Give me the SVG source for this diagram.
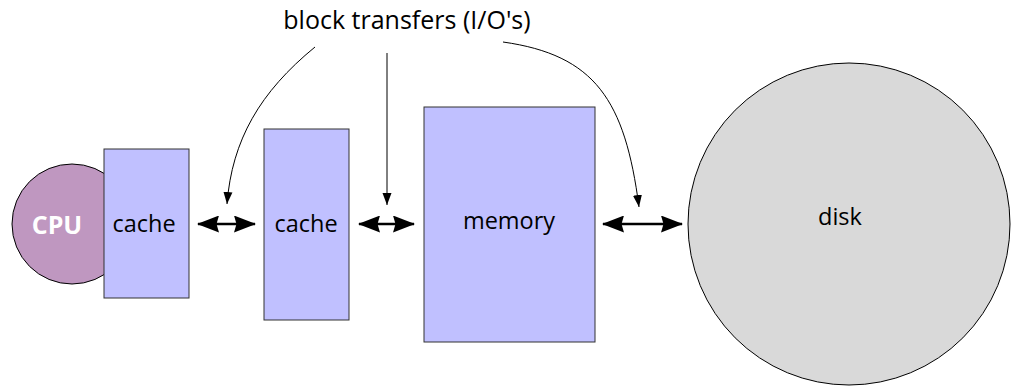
<svg xmlns="http://www.w3.org/2000/svg" width="1013" height="386" viewBox="0 0 1013 386">
<style>
.lbl{font-family:"Open Sans","DejaVu Sans",sans-serif;font-size:23.5px;fill:#000;text-anchor:middle}
.box{fill:#c0c0ff;stroke:#333;stroke-width:1}
.thin{fill:none;stroke:#000;stroke-width:1}
.thick{fill:none;stroke:#000;stroke-width:2.5}
</style>
<defs>
<marker id="big" markerUnits="userSpaceOnUse" markerWidth="22" markerHeight="17" refX="21" refY="8.5" orient="auto-start-reverse" viewBox="0 0 22 17">
<path d="M0,0 L22,8.5 L0,17 L2.5,8.5 Z" fill="#000"/>
</marker>
<marker id="sm" markerUnits="userSpaceOnUse" markerWidth="14" markerHeight="10" refX="12" refY="4.5" orient="auto" viewBox="0 0 14 9">
<path d="M0,0 L12,4.5 L0,9 Z" fill="#000"/>
</marker>
</defs>
<g id="cpu">
<circle cx="72" cy="224" r="60" fill="#bf97c0" stroke="#000" stroke-width="1"/>
<text x="57" y="234" class="lbl" style="fill:#fff;font-weight:bold;font-size:25px">CPU</text>
</g>
<g id="cache1">
<rect x="104" y="149" width="85" height="149" class="box"/>
<text x="144" y="232" class="lbl">cache</text>
</g>
<g id="cache2">
<rect x="264" y="129" width="85" height="191" class="box"/>
<text x="306" y="232" class="lbl">cache</text>
</g>
<g id="memory">
<rect x="424" y="107" width="171" height="235" class="box"/>
<text x="509" y="229" class="lbl">memory</text>
</g>
<g id="disk">
<circle cx="849" cy="224" r="161" fill="#d9d9d9" stroke="#000" stroke-width="1"/>
<text x="840" y="225" class="lbl">disk</text>
</g>
<g id="title">
<text x="407" y="29" class="lbl" style="font-size:25px">block transfers (I/O's)</text>
</g>
<g id="connectors">
<path d="M198,224 L255,224" class="thick" marker-start="url(#big)" marker-end="url(#big)"/>
<path d="M359,224 L414,224" class="thick" marker-start="url(#big)" marker-end="url(#big)"/>
<path d="M603,224 L682,224" class="thick" marker-start="url(#big)" marker-end="url(#big)"/>
<path d="M315,47 C260,92 232,140 227,204" class="thin" marker-end="url(#sm)"/>
<path d="M387,53 L387,205" class="thin" marker-end="url(#sm)"/>
<path d="M503,42 C595,55 625,100 639,207" class="thin" marker-end="url(#sm)"/>
</g>
</svg>
